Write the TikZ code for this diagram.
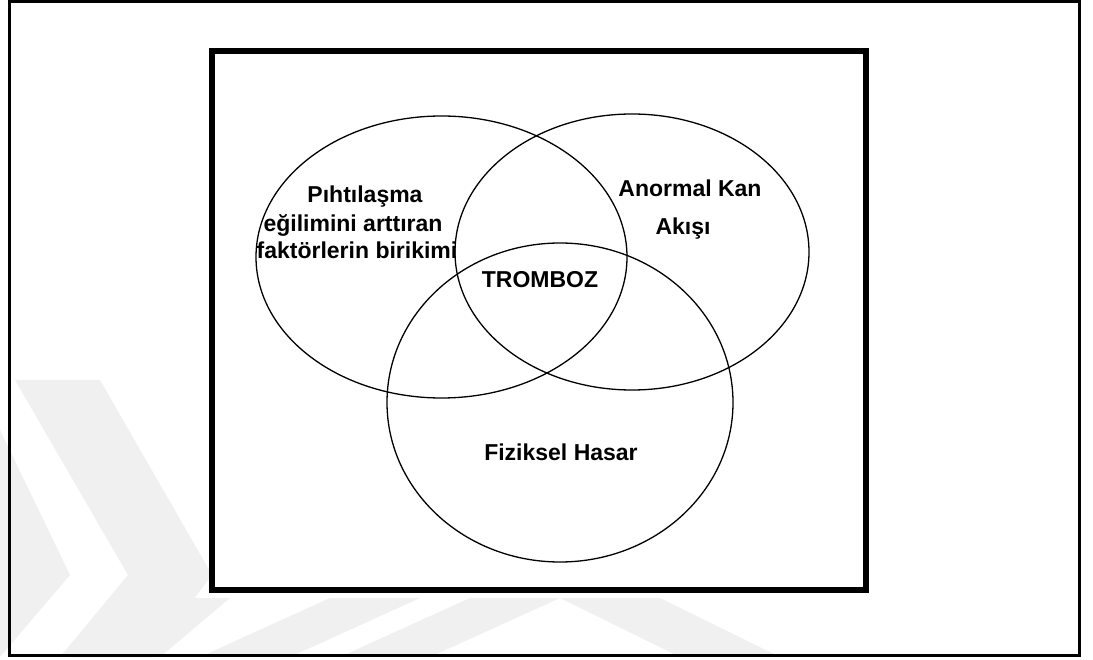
\documentclass[tikz,border=0pt]{standalone}
\usepackage{fontspec}
\setmainfont{Liberation Sans}
\begin{document}
\begin{tikzpicture}[x=1pt,y=-1pt,
  lbl/.style={font=\fontsize{23}{23}\selectfont\bfseries, inner sep=0pt, anchor=base},
  venn/.style={draw=black, line width=1.3pt},
  wm/.style={fill=black!6, draw=none}]
\useasboundingbox (0,0) rectangle (1093,660);
\fill[white] (0,0) rectangle (1093,660);
% watermark
\fill[wm] (15,380) -- (100,380) -- (212,575) -- (150,657) -- (60,657) -- (128,575) -- cycle;
\fill[wm] (0,430) -- (70,575) -- (0,657) -- cycle;
\fill[wm] (70,657) -- (160,657) -- (230,598) -- (140,598) -- cycle;
\fill[wm] (200,657) -- (290,657) -- (420,598) -- (330,598) -- cycle;
\fill[wm] (340,657) -- (430,657) -- (560,598) -- (470,598) -- cycle;
\fill[wm] (560,598) -- (660,598) -- (780,657) -- (680,657) -- cycle;
% frames
\draw[line width=3.5pt] (9.5,1.5) rectangle (1079.5,655.5);
\draw[line width=6pt, fill=white] (212,51) rectangle (866,589.5);
% ellipses
\draw[venn] (441.5,257) ellipse [x radius=185.5, y radius=141];
\draw[venn] (632,252) ellipse [x radius=177, y radius=138];
\draw[venn] (560,402.5) ellipse [x radius=173, y radius=159.5];
% labels
\node[lbl] (p1) at (365,203) {Pıhtılaşma};
\node[lbl] (p2) at (353,232) {eğilimini arttıran};
\node[lbl] (p3) at (357,259) {faktörlerin birikimi};
\node[lbl] (a1) at (690,197) {Anormal Kan};
\node[lbl] (a2) at (683,235) {Akışı};
\node[lbl] (t) at (540,288) {TROMBOZ};
\node[lbl] (f) at (561,460) {Fiziksel Hasar};
\end{tikzpicture}
\end{document}
